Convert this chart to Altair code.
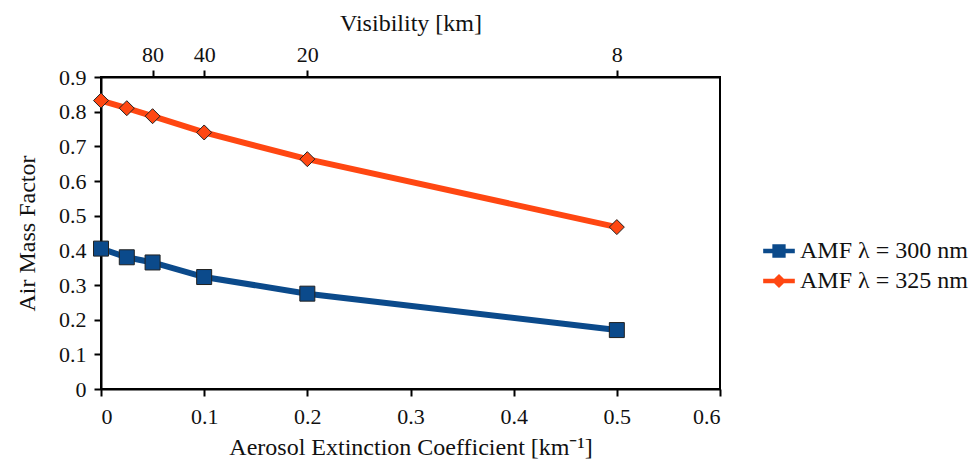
import altair as alt
import pandas as pd

ext = [0, 0.025, 0.05, 0.1, 0.2, 0.5]
amf_300 = [0.405, 0.380, 0.365, 0.323, 0.275, 0.170]
amf_325 = [0.832, 0.810, 0.787, 0.740, 0.663, 0.467]
series = ["AMF λ = 300 nm", "AMF λ = 325 nm"]
colors = ["#0B4A8B", "#FF4712"]
vis_ticks = [0.05, 0.1, 0.2, 0.5]
vis_labels = ["80", "40", "20", "8"]

rows = []
for name, vals in zip(series, [amf_300, amf_325]):
    for x, y in zip(ext, vals):
        rows.append({"ext": x, "amf": y, "series": name})
df = pd.DataFrame(rows)

FONT = "Liberation Serif"
LABEL_SIZE = 22
TITLE_SIZE = 24
label_expr = " : ".join(
    f"datum.value == {v} ? '{l}'" for v, l in zip(vis_ticks, vis_labels)
) + " : ''"

color_scale = alt.Scale(domain=series, range=colors)
x_scale = alt.Scale(domain=[0, 0.6], nice=False)
y_scale = alt.Scale(domain=[0, 0.9], nice=False)

leg_line_sq = "M-1,-0.15L1,-0.15L1,0.15L-1,0.15Z M-0.42,-0.42L0.42,-0.42L0.42,0.42L-0.42,0.42Z"
leg_line_di = "M-1,-0.15L1,-0.15L1,0.15L-1,0.15Z M0,-0.45L0.45,0L0,0.45L-0.45,0Z"

x_axis = alt.Axis(
    title="Aerosol Extinction Coefficient [km⁻¹]",
    values=[0, 0.1, 0.2, 0.3, 0.4, 0.5, 0.6],
    format=".1~f",
    orient="bottom",
    grid=False,
    tickSize=7,
    labelPadding=10,
    titlePadding=8,
)
y_axis = alt.Axis(
    title="Air Mass Factor",
    values=[0, 0.1, 0.2, 0.3, 0.4, 0.5, 0.6, 0.7, 0.8, 0.9],
    format=".1~f",
    grid=False,
    tickSize=7,
    labelPadding=8,
    titlePadding=19,
)

x_enc = alt.X("ext:Q", scale=x_scale, axis=x_axis)
y_enc = alt.Y("amf:Q", scale=y_scale, axis=y_axis)

lines = alt.Chart(df).mark_line(strokeWidth=6).encode(
    x=x_enc,
    y=y_enc,
    color=alt.Color("series:N", scale=color_scale, legend=None),
    detail="series:N",
)

points = alt.Chart(df).mark_point(
    filled=True, size=225, stroke="#222222", strokeWidth=1, opacity=1
).encode(
    x=x_enc,
    y=y_enc,
    fill=alt.Fill("series:N", scale=color_scale, legend=None),
    shape=alt.Shape(
        "series:N",
        scale=alt.Scale(domain=series, range=["square", "diamond"]),
        legend=None,
    ),
)

legend_cfg = dict(
    title=None,
    orient="none",
    legendX=662,
    legendY=158,
    symbolSize=1000,
    symbolStrokeWidth=0,
    symbolOpacity=1,
    labelFontSize=TITLE_SIZE,
    labelFont=FONT,
    labelColor="#111111",
    labelLimit=400,
    rowPadding=2,
    labelOffset=5,
)

legend_layer = alt.Chart(df).mark_point(filled=True, opacity=1).encode(
    x=x_enc,
    y=y_enc,
    fill=alt.Fill("series:N", scale=color_scale, legend=alt.Legend(**legend_cfg)),
    shape=alt.Shape(
        "series:N",
        scale=alt.Scale(domain=series, range=[leg_line_sq, leg_line_di]),
        legend=alt.Legend(**legend_cfg),
    ),
).transform_filter("datum.ext < -1")

main = alt.layer(lines, points, legend_layer).resolve_scale(
    shape="independent", fill="independent"
)

top_axis = alt.Chart(pd.DataFrame({"ext": vis_ticks})).mark_point(opacity=0).encode(
    x=alt.X(
        "ext:Q",
        scale=x_scale,
        axis=alt.Axis(
            orient="top",
            title="Visibility [km]",
            values=vis_ticks,
            labelExpr=label_expr,
            grid=False,
            tickSize=7,
            labelPadding=4,
            titlePadding=8,
        ),
    ),
)

chart = (
    alt.layer(top_axis, main)
    .resolve_scale(x="independent")
    .properties(
        width=619,
        height=312,
        autosize=alt.AutoSizeParams(type="none"),
        padding={"left": 101, "top": 77, "right": 252, "bottom": 73},
    )
    .configure_view(stroke="black", strokeWidth=2)
    .configure_axis(
        domainColor="black",
        domainWidth=2,
        tickColor="black",
        tickWidth=2,
        labelFont=FONT,
        titleFont=FONT,
        labelFontSize=LABEL_SIZE,
        titleFontSize=TITLE_SIZE,
        labelColor="#111111",
        titleColor="#111111",
        titleFontWeight="normal",
    )
)

chart.save("out.html", embed_options={"renderer": "svg", "actions": False})
